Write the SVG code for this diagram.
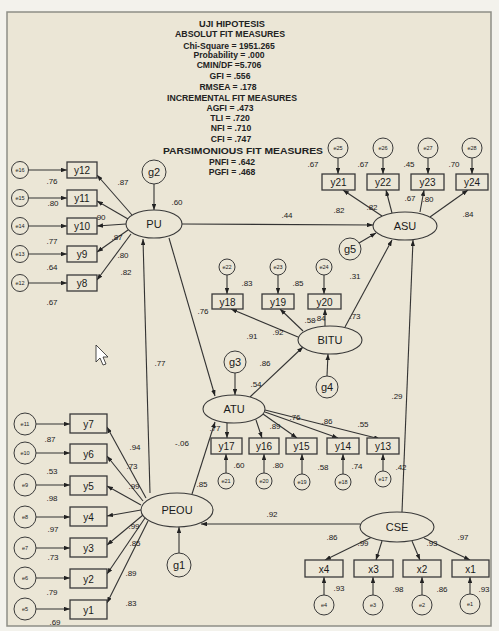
<svg xmlns="http://www.w3.org/2000/svg" width="499" height="631" viewBox="0 0 499 631">
<style>
text{font-family:"Liberation Sans",Arial,sans-serif;fill:#1a1a1a}
.st{font-size:8.6px;font-weight:bold;text-anchor:middle;fill:#222}
.lb{font-size:8px;text-anchor:middle}
.bx{fill:#ebe6d6;stroke:#3a3a3a;stroke-width:1.3}
.bt{font-size:10px;text-anchor:middle}
.ec{fill:#ebe6d6;stroke:#3a3a3a;stroke-width:1}
.et{font-size:5.5px;text-anchor:middle}
.gt{font-size:11px;text-anchor:middle}
.lv{fill:#ebe6d6;stroke:#3a3a3a;stroke-width:1.1}
.lt{font-size:11px;text-anchor:middle}
.c line{stroke:#333;stroke-width:1.1;marker-end:url(#a)}
</style>
<defs>
<marker id="a" viewBox="0 0 8 6" refX="8" refY="3" markerWidth="6" markerHeight="4.5" orient="auto" markerUnits="userSpaceOnUse"><path d="M0,0 L8,3 L0,6 z" fill="#222"/></marker>
</defs>
<rect x="0" y="0" width="499" height="631" fill="#f3f2ec"/>
<rect x="7" y="12" width="484" height="614" fill="#ebe6d6" stroke="#8e8e86" stroke-width="1.5"/>

<g id="fit-stats">
<text class="st" x="232" y="27" textLength="66" lengthAdjust="spacingAndGlyphs">UJI HIPOTESIS</text>
<text class="st" x="230" y="37" textLength="110" lengthAdjust="spacingAndGlyphs">ABSOLUT FIT MEASURES</text>
<text class="st" x="229" y="49">Chi-Square = 1951.265</text>
<text class="st" x="229" y="58">Probability = .000</text>
<text class="st" x="229" y="68">CMIN/DF =5.706</text>
<text class="st" x="230" y="79">GFI = .556</text>
<text class="st" x="228" y="90">RMSEA = .178</text>
<text class="st" x="232" y="101" textLength="130" lengthAdjust="spacingAndGlyphs">INCREMENTAL FIT MEASURES</text>
<text class="st" x="230" y="111">AGFI = .473</text>
<text class="st" x="230" y="121">TLI = .720</text>
<text class="st" x="231" y="131">NFI = .710</text>
<text class="st" x="231" y="142">CFI = .747</text>
<text class="st" x="243" y="154" textLength="160" lengthAdjust="spacingAndGlyphs">PARSIMONIOUS FIT MEASURES</text>
<text class="st" x="232" y="165">PNFI = .642</text>
<text class="st" x="232" y="175">PGFI = .468</text>
</g>

<g id="connectors" class="c">
<line x1="28.5" y1="170" x2="67" y2="170"/>
<line x1="28.5" y1="198" x2="67" y2="198"/>
<line x1="28.5" y1="226" x2="67" y2="226"/>
<line x1="28.5" y1="254" x2="67" y2="254"/>
<line x1="28.5" y1="283" x2="67" y2="283"/>
<line x1="132" y1="215" x2="97" y2="175"/>
<line x1="128" y1="219" x2="97" y2="201"/>
<line x1="126" y1="224" x2="97" y2="226"/>
<line x1="128" y1="230" x2="97" y2="252"/>
<line x1="131" y1="234" x2="97" y2="280"/>
<line x1="154" y1="184" x2="154" y2="210"/>
<line x1="182" y1="224" x2="373" y2="225"/>
<line x1="169" y1="238" x2="215" y2="396"/>
<line x1="338" y1="158" x2="338" y2="174"/>
<line x1="383" y1="158" x2="383" y2="174"/>
<line x1="428" y1="158" x2="428" y2="174"/>
<line x1="472" y1="158" x2="472" y2="174"/>
<line x1="382" y1="216" x2="343" y2="190"/>
<line x1="392" y1="213" x2="386" y2="190"/>
<line x1="420" y1="212" x2="424" y2="190"/>
<line x1="430" y1="217" x2="468" y2="190"/>
<line x1="359" y1="243" x2="376" y2="233"/>
<line x1="345" y1="327" x2="392" y2="240"/>
<line x1="402" y1="512" x2="413" y2="240"/>
<line x1="227" y1="275" x2="227" y2="294"/>
<line x1="278" y1="275" x2="278" y2="294"/>
<line x1="324" y1="275" x2="324" y2="294"/>
<line x1="298" y1="337" x2="231" y2="309"/>
<line x1="303" y1="331" x2="280" y2="309"/>
<line x1="325" y1="326" x2="325" y2="309"/>
<line x1="327" y1="376" x2="328" y2="354"/>
<line x1="250" y1="397" x2="303" y2="347"/>
<line x1="235" y1="373" x2="235" y2="395"/>
<line x1="226" y1="473" x2="226" y2="454"/>
<line x1="264" y1="473" x2="264" y2="454"/>
<line x1="302" y1="474" x2="302" y2="454"/>
<line x1="343" y1="474" x2="343" y2="454"/>
<line x1="383" y1="471" x2="383" y2="454"/>
<line x1="227" y1="423" x2="227" y2="438"/>
<line x1="256" y1="420" x2="262" y2="438"/>
<line x1="263" y1="414" x2="297" y2="438"/>
<line x1="265" y1="412" x2="338" y2="438"/>
<line x1="265" y1="410" x2="380" y2="439"/>
<line x1="150" y1="493" x2="143" y2="239"/>
<line x1="192" y1="494" x2="215" y2="422"/>
<line x1="179" y1="553" x2="179" y2="527"/>
<line x1="360" y1="524" x2="201" y2="524"/>
<line x1="36" y1="424" x2="70" y2="424"/>
<line x1="36" y1="453" x2="70" y2="453"/>
<line x1="36" y1="485" x2="70" y2="485"/>
<line x1="36" y1="517" x2="70" y2="517"/>
<line x1="36" y1="548" x2="70" y2="548"/>
<line x1="36" y1="578" x2="70" y2="578"/>
<line x1="36" y1="609" x2="70" y2="609"/>
<line x1="146" y1="498" x2="107" y2="427"/>
<line x1="143" y1="501" x2="107" y2="456"/>
<line x1="141" y1="505" x2="107" y2="486"/>
<line x1="141" y1="510" x2="107" y2="516"/>
<line x1="143" y1="515" x2="107" y2="545"/>
<line x1="145" y1="518" x2="107" y2="574"/>
<line x1="148" y1="521" x2="107" y2="603"/>
<line x1="372" y1="537" x2="325" y2="560"/>
<line x1="382" y1="541" x2="376" y2="560"/>
<line x1="412" y1="541" x2="420" y2="560"/>
<line x1="424" y1="538" x2="470" y2="560"/>
<line x1="324" y1="595" x2="324" y2="577"/>
<line x1="373" y1="595" x2="373" y2="577"/>
<line x1="422" y1="595" x2="422" y2="577"/>
<line x1="470" y1="594" x2="470" y2="577"/>
</g>

<g id="coef-labels">
<text class="lb" x="52" y="184">.76</text><text class="lb" x="53" y="206">.80</text><text class="lb" x="52" y="244">.77</text><text class="lb" x="52" y="270">.64</text><text class="lb" x="52" y="305">.67</text>
<text class="lb" x="123" y="185">.87</text><text class="lb" x="100" y="220">.90</text><text class="lb" x="117" y="240">.87</text><text class="lb" x="123" y="258">.80</text><text class="lb" x="126" y="275">.82</text><text class="lb" x="177" y="205">.60</text>
<text class="lb" x="313" y="167">.67</text><text class="lb" x="363" y="167">.67</text><text class="lb" x="409" y="167">.45</text><text class="lb" x="454" y="167">.70</text>
<text class="lb" x="339" y="213">.82</text><text class="lb" x="372" y="210">.82</text><text class="lb" x="410" y="201">.67</text><text class="lb" x="428" y="202">.80</text><text class="lb" x="468" y="217">.84</text><text class="lb" x="287" y="218">.44</text><text class="lb" x="355" y="279">.31</text><text class="lb" x="355" y="319">.73</text>
<text class="lb" x="247" y="286">.83</text><text class="lb" x="298" y="286">.85</text><text class="lb" x="203" y="314">.76</text><text class="lb" x="252" y="339">.91</text><text class="lb" x="278" y="335">.92</text><text class="lb" x="310" y="323">.58</text><text class="lb" x="320" y="321">.84</text><text class="lb" x="265" y="366">.86</text><text class="lb" x="256" y="387">.54</text>
<text class="lb" x="239" y="468">.60</text><text class="lb" x="278" y="468">.80</text><text class="lb" x="323" y="470">.58</text><text class="lb" x="357" y="469">.74</text><text class="lb" x="401" y="470">.42</text>
<text class="lb" x="215" y="431">.77</text><text class="lb" x="182" y="446">-.06</text><text class="lb" x="202" y="487">.85</text><text class="lb" x="275" y="429">.89</text><text class="lb" x="295" y="420">.76</text><text class="lb" x="327" y="424">.86</text><text class="lb" x="363" y="427">.55</text><text class="lb" x="160" y="366">.77</text><text class="lb" x="397" y="399">.29</text>
<text class="lb" x="50" y="442">.87</text><text class="lb" x="52" y="474">.53</text><text class="lb" x="52" y="501">.98</text><text class="lb" x="53" y="532">.97</text><text class="lb" x="53" y="560">.73</text><text class="lb" x="52" y="595">.79</text><text class="lb" x="55" y="625">.69</text>
<text class="lb" x="135" y="450">.94</text><text class="lb" x="132" y="469">.73</text><text class="lb" x="134" y="489">.99</text><text class="lb" x="134" y="529">.99</text><text class="lb" x="135" y="546">.85</text><text class="lb" x="131" y="576">.89</text><text class="lb" x="131" y="606">.83</text><text class="lb" x="272" y="517">.92</text>
<text class="lb" x="332" y="540">.86</text><text class="lb" x="363" y="546">.99</text><text class="lb" x="432" y="546">.93</text><text class="lb" x="463" y="540">.97</text><text class="lb" x="339" y="591">.93</text><text class="lb" x="398" y="592">.98</text><text class="lb" x="442" y="592">.86</text><text class="lb" x="484" y="592">.93</text>
</g>

<g id="PU"><ellipse class="lv" cx="154" cy="224" rx="28" ry="14"/><text class="lt" x="154" y="228">PU</text></g>
<g id="ASU"><ellipse class="lv" cx="405" cy="226" rx="32" ry="14"/><text class="lt" x="405" y="230">ASU</text></g>
<g id="BITU"><ellipse class="lv" cx="330" cy="340" rx="32" ry="14"/><text class="lt" x="330" y="344">BITU</text></g>
<g id="ATU"><ellipse class="lv" cx="234" cy="409" rx="31" ry="14"/><text class="lt" x="234" y="413">ATU</text></g>
<g id="PEOU"><ellipse class="lv" cx="177" cy="510" rx="36" ry="17"/><text class="lt" x="177" y="514">PEOU</text></g>
<g id="CSE"><ellipse class="lv" cx="397" cy="527" rx="37" ry="15"/><text class="lt" x="397" y="531">CSE</text></g>

<g id="g1"><circle class="ec" cx="179" cy="565" r="12"/><text class="gt" x="179" y="569">g1</text></g>
<g id="g2"><circle class="ec" cx="154" cy="172" r="12"/><text class="gt" x="154" y="176">g2</text></g>
<g id="g3"><circle class="ec" cx="235" cy="362" r="11"/><text class="gt" x="235" y="366">g3</text></g>
<g id="g4"><circle class="ec" cx="327" cy="387" r="11"/><text class="gt" x="327" y="391">g4</text></g>
<g id="g5"><circle class="ec" cx="350" cy="249" r="11"/><text class="gt" x="350" y="253">g5</text></g>

<g id="y12"><rect class="bx" x="67" y="162" width="30" height="16"/><text class="bt" x="82" y="174">y12</text></g>
<g id="y11"><rect class="bx" x="67" y="190" width="30" height="16"/><text class="bt" x="82" y="202">y11</text></g>
<g id="y10"><rect class="bx" x="67" y="218" width="30" height="16"/><text class="bt" x="82" y="230">y10</text></g>
<g id="y9"><rect class="bx" x="67" y="246" width="30" height="16"/><text class="bt" x="82" y="258">y9</text></g>
<g id="y8"><rect class="bx" x="67" y="275" width="30" height="16"/><text class="bt" x="82" y="287">y8</text></g>
<g id="e16"><circle class="ec" cx="20" cy="170" r="8.5"/><text class="et" x="20" y="172">e16</text></g>
<g id="e15"><circle class="ec" cx="20" cy="198" r="8.5"/><text class="et" x="20" y="200">e15</text></g>
<g id="e14"><circle class="ec" cx="20" cy="226" r="8.5"/><text class="et" x="20" y="228">e14</text></g>
<g id="e13"><circle class="ec" cx="20" cy="254" r="8.5"/><text class="et" x="20" y="256">e13</text></g>
<g id="e12"><circle class="ec" cx="20" cy="283" r="8.5"/><text class="et" x="20" y="285">e12</text></g>

<g id="y21"><rect class="bx" x="322" y="174" width="33" height="16"/><text class="bt" x="338.5" y="186">y21</text></g>
<g id="y22"><rect class="bx" x="367" y="174" width="32" height="16"/><text class="bt" x="383" y="186">y22</text></g>
<g id="y23"><rect class="bx" x="411" y="174" width="33" height="16"/><text class="bt" x="427.5" y="186">y23</text></g>
<g id="y24"><rect class="bx" x="456" y="174" width="32" height="16"/><text class="bt" x="472" y="186">y24</text></g>
<g id="e25"><circle class="ec" cx="338" cy="148" r="10"/><text class="et" x="338" y="150">e25</text></g>
<g id="e26"><circle class="ec" cx="383" cy="148" r="10"/><text class="et" x="383" y="150">e26</text></g>
<g id="e27"><circle class="ec" cx="428" cy="148" r="10"/><text class="et" x="428" y="150">e27</text></g>
<g id="e28"><circle class="ec" cx="472" cy="148" r="10"/><text class="et" x="472" y="150">e28</text></g>

<g id="y18"><rect class="bx" x="212" y="294" width="31" height="15"/><text class="bt" x="227.5" y="305.5">y18</text></g>
<g id="y19"><rect class="bx" x="262" y="294" width="32" height="15"/><text class="bt" x="278" y="305.5">y19</text></g>
<g id="y20"><rect class="bx" x="308" y="294" width="33" height="15"/><text class="bt" x="324.5" y="305.5">y20</text></g>
<g id="e22"><circle class="ec" cx="227" cy="267" r="8"/><text class="et" x="227" y="269">e22</text></g>
<g id="e23"><circle class="ec" cx="278" cy="267" r="8"/><text class="et" x="278" y="269">e23</text></g>
<g id="e24"><circle class="ec" cx="324" cy="267" r="8"/><text class="et" x="324" y="269">e24</text></g>

<g id="y17"><rect class="bx" x="211" y="438" width="31" height="16"/><text class="bt" x="226.5" y="450">y17</text></g>
<g id="y16"><rect class="bx" x="249" y="438" width="30" height="16"/><text class="bt" x="264" y="450">y16</text></g>
<g id="y15"><rect class="bx" x="286" y="438" width="31" height="16"/><text class="bt" x="301.5" y="450">y15</text></g>
<g id="y14"><rect class="bx" x="327" y="438" width="32" height="16"/><text class="bt" x="343" y="450">y14</text></g>
<g id="y13"><rect class="bx" x="367" y="438" width="32" height="16"/><text class="bt" x="383" y="450">y13</text></g>
<g id="e21"><circle class="ec" cx="226" cy="481" r="8"/><text class="et" x="226" y="483">e21</text></g>
<g id="e20"><circle class="ec" cx="264" cy="481" r="8"/><text class="et" x="264" y="483">e20</text></g>
<g id="e19"><circle class="ec" cx="302" cy="482" r="8"/><text class="et" x="302" y="484">e19</text></g>
<g id="e18"><circle class="ec" cx="343" cy="482" r="8"/><text class="et" x="343" y="484">e18</text></g>
<g id="e17"><circle class="ec" cx="383" cy="479" r="8"/><text class="et" x="383" y="481">e17</text></g>

<g id="y7"><rect class="bx" x="70" y="414" width="37" height="19"/><text class="bt" x="88.5" y="427.5">y7</text></g>
<g id="y6"><rect class="bx" x="70" y="444" width="37" height="19"/><text class="bt" x="88.5" y="457.5">y6</text></g>
<g id="y5"><rect class="bx" x="70" y="476" width="37" height="19"/><text class="bt" x="88.5" y="489.5">y5</text></g>
<g id="y4"><rect class="bx" x="70" y="507" width="37" height="19"/><text class="bt" x="88.5" y="520.5">y4</text></g>
<g id="y3"><rect class="bx" x="70" y="538" width="37" height="19"/><text class="bt" x="88.5" y="551.5">y3</text></g>
<g id="y2"><rect class="bx" x="70" y="569" width="37" height="19"/><text class="bt" x="88.5" y="582.5">y2</text></g>
<g id="y1"><rect class="bx" x="70" y="600" width="37" height="19"/><text class="bt" x="88.5" y="613.5">y1</text></g>
<g id="e11"><circle class="ec" cx="25" cy="424" r="11"/><text class="et" x="25" y="426">e11</text></g>
<g id="e10"><circle class="ec" cx="25" cy="453" r="11"/><text class="et" x="25" y="455">e10</text></g>
<g id="e9"><circle class="ec" cx="25" cy="485" r="11"/><text class="et" x="25" y="487">e9</text></g>
<g id="e8"><circle class="ec" cx="25" cy="517" r="11"/><text class="et" x="25" y="519">e8</text></g>
<g id="e7"><circle class="ec" cx="25" cy="548" r="11"/><text class="et" x="25" y="550">e7</text></g>
<g id="e6"><circle class="ec" cx="25" cy="578" r="11"/><text class="et" x="25" y="580">e6</text></g>
<g id="e5"><circle class="ec" cx="25" cy="609" r="11"/><text class="et" x="25" y="611">e5</text></g>

<g id="x4"><rect class="bx" x="305" y="560" width="38" height="17"/><text class="bt" x="324" y="572.5">x4</text></g>
<g id="x3"><rect class="bx" x="354" y="560" width="39" height="17"/><text class="bt" x="373.5" y="572.5">x3</text></g>
<g id="x2"><rect class="bx" x="403" y="560" width="38" height="17"/><text class="bt" x="422" y="572.5">x2</text></g>
<g id="x1"><rect class="bx" x="452" y="560" width="37" height="17"/><text class="bt" x="470.5" y="572.5">x1</text></g>
<g id="e4"><circle class="ec" cx="324" cy="605" r="10"/><text class="et" x="324" y="607">e4</text></g>
<g id="e3"><circle class="ec" cx="373" cy="605" r="10"/><text class="et" x="373" y="607">e3</text></g>
<g id="e2"><circle class="ec" cx="422" cy="605" r="10"/><text class="et" x="422" y="607">e2</text></g>
<g id="e1"><circle class="ec" cx="470" cy="604" r="10"/><text class="et" x="470" y="606">e1</text></g>

<path d="M96,345 L96,362 L100,358 L103,365 L106,364 L103,357 L108,357 Z" fill="#fff" stroke="#222" stroke-width="0.8"/>
</svg>
